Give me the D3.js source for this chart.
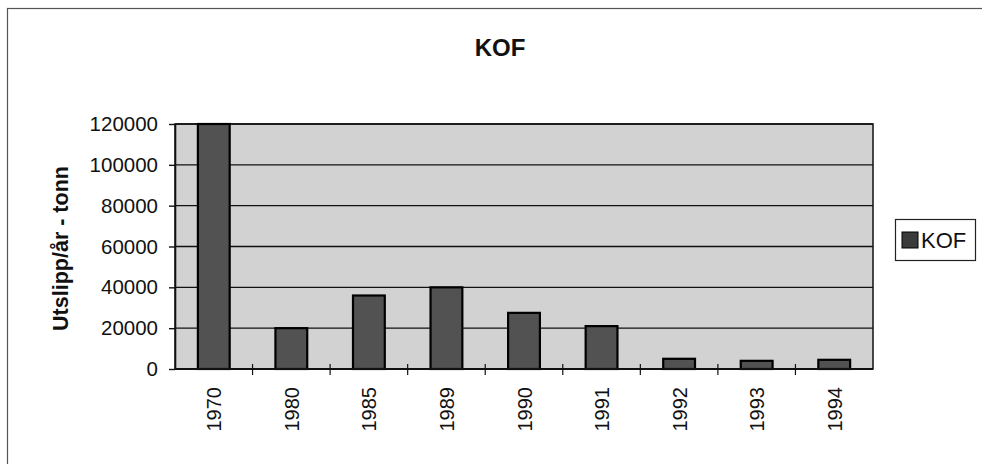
<!DOCTYPE html>
<html>

<head>
    <title>KOF</title>
    <script src="https://d3js.org/d3.v7.min.js"></script>
    <style>
        body {
            margin: 0;
            background: #fff;
        }

        text {
            font-family: "Liberation Sans", Arial, sans-serif;
            fill: #111;
        }

        .axis path,
        .axis line {
            stroke: #111;
        }
    </style>
</head>

<body>
<script>
    var years = ["1970", "1980", "1985", "1989", "1990", "1991", "1992", "1993", "1994"];
    var kof = [120000, 20000, 36000, 40000, 27500, 21000, 5000, 4000, 4500];
    var yTicks = [0, 20000, 40000, 60000, 80000, 100000, 120000];
    var title = "KOF";
    var yTitle = "Utslipp/år - tonn";

    var w = 982;
    var h = 464;
    // note: "top" is taken by window.top, so plot edges get their own names
    var plotLeft = 175, plotRight = 873, plotTop = 124, plotBottom = 369;

    var svg = d3.select("body")
        .append("svg")
        .attr("width", w)
        .attr("height", h);

    // outer frame of the chart
    svg.append("rect")
        .attr("x", 7.5)
        .attr("y", 8.5)
        .attr("width", 1000)
        .attr("height", 500)
        .attr("fill", "none")
        .attr("stroke", "#555")
        .attr("stroke-width", 1.2);

    var x = d3.scaleBand()
        .domain(years)
        .range([plotLeft, plotRight])
        .paddingInner(0.59)
        .paddingOuter(0.295);

    var xEdges = d3.scaleBand().domain(years).range([plotLeft, plotRight]);

    var y = d3.scaleLinear()
        .domain([0, 120000])
        .range([plotBottom, plotTop]);

    // plot area
    svg.append("rect")
        .attr("x", plotLeft)
        .attr("y", plotTop)
        .attr("width", plotRight - plotLeft)
        .attr("height", plotBottom - plotTop)
        .attr("fill", "#d2d2d2")
        .attr("stroke", "#111")
        .attr("stroke-width", 1.5);

    svg.selectAll(".grid")
        .data(yTicks)
        .enter()
        .append("line")
        .attr("class", "grid")
        .attr("x1", plotLeft)
        .attr("x2", plotRight)
        .attr("y1", function (d) { return y(d); })
        .attr("y2", function (d) { return y(d); })
        .attr("stroke", "#111")
        .attr("stroke-width", 1.4);

    svg.selectAll(".bar")
        .data(kof)
        .enter()
        .append("rect")
        .attr("class", "bar")
        .attr("x", function (d, i) { return x(years[i]); })
        .attr("y", function (d) { return y(d); })
        .attr("width", x.bandwidth())
        .attr("height", function (d) { return plotBottom - y(d); })
        .attr("fill", "#525252")
        .attr("stroke", "#000")
        .attr("stroke-width", 2.2);

    // y axis
    var yAxis = svg.append("g")
        .attr("class", "axis")
        .attr("transform", "translate(" + plotLeft + ",0)")
        .call(d3.axisLeft(y).tickValues(yTicks).tickFormat(d3.format("d"))
            .tickSize(6).tickSizeOuter(0).tickPadding(11));

    yAxis.select(".domain").attr("stroke-width", 1.6);
    yAxis.selectAll("line").attr("stroke-width", 1.4);
    yAxis.selectAll("text")
        .style("font-size", "20.5px")
        .attr("fill", "#111");

    // x axis: line plus ticks on band edges
    svg.append("line")
        .attr("x1", plotLeft)
        .attr("x2", plotRight)
        .attr("y1", plotBottom)
        .attr("y2", plotBottom)
        .attr("stroke", "#111")
        .attr("stroke-width", 2.2);

    svg.selectAll(".xtick")
        .data(years.slice(1))
        .enter()
        .append("line")
        .attr("class", "xtick")
        .attr("x1", function (d) { return xEdges(d); })
        .attr("x2", function (d) { return xEdges(d); })
        .attr("y1", plotBottom - 5)
        .attr("y2", plotBottom + 6)
        .attr("stroke", "#111")
        .attr("stroke-width", 1.2);

    svg.selectAll(".xlabel")
        .data(years)
        .enter()
        .append("text")
        .attr("class", "xlabel")
        .attr("transform", function (d) {
            return "translate(" + (x(d) + x.bandwidth() / 2 + 7.5) + "," + (plotBottom + 18) + ") rotate(-90)";
        })
        .attr("text-anchor", "end")
        .style("font-size", "20px")
        .text(function (d) { return d; });

    // titles
    svg.append("text")
        .attr("x", 500)
        .attr("y", 56)
        .attr("text-anchor", "middle")
        .style("font-size", "24px")
        .style("font-weight", "bold")
        .text(title);

    svg.append("text")
        .attr("transform", "translate(68," + ((plotTop + plotBottom) / 2 + 2) + ") rotate(-90)")
        .attr("text-anchor", "middle")
        .style("font-size", "21.5px")
        .style("font-weight", "bold")
        .text(yTitle);

    // legend
    var legend = svg.append("g").attr("transform", "translate(895,219)");
    legend.append("rect")
        .attr("x", 0.5)
        .attr("y", 0.5)
        .attr("width", 80)
        .attr("height", 41)
        .attr("fill", "#fff")
        .attr("stroke", "#222")
        .attr("stroke-width", 1.2);
    legend.append("rect")
        .attr("x", 7)
        .attr("y", 13)
        .attr("width", 16)
        .attr("height", 16)
        .attr("fill", "#3a3a3a")
        .attr("stroke", "#000");
    legend.append("text")
        .attr("x", 26)
        .attr("y", 29)
        .style("font-size", "22px")
        .text(title);
</script>
</body>

</html>
